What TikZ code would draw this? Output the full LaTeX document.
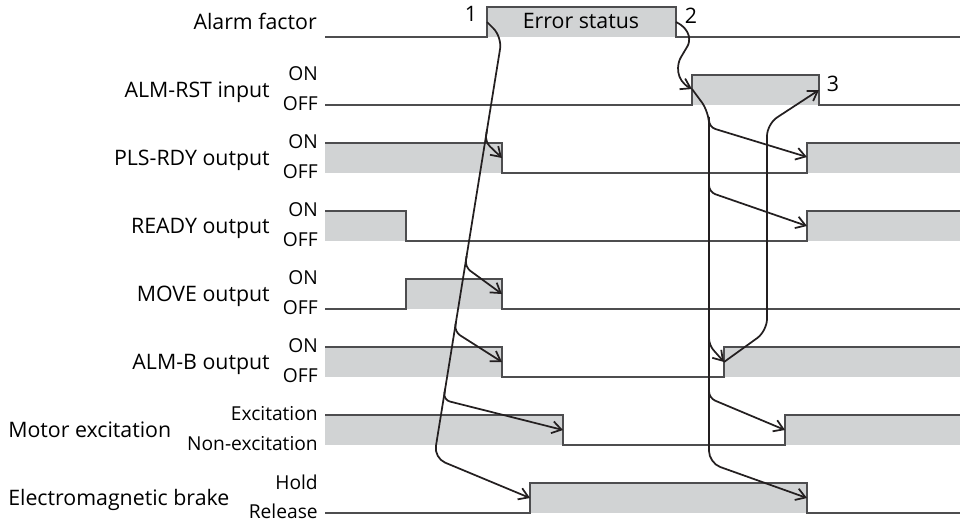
\documentclass[tikz,border=0pt]{standalone}
\usepackage{fontspec}
\setmainfont{Open Sans}
\usetikzlibrary{arrows.meta,calc}

\definecolor{sigfill}{HTML}{D1D3D4}
\definecolor{sigline}{HTML}{4D4D4F}
\definecolor{arrline}{HTML}{231F20}

\tikzset{
  wave/.style={draw=sigline,line width=0.9pt},
  hi/.style={fill=sigfill},
  arr/.style={->,draw=arrline,line width=1.3pt,rounded corners=5pt},
  lab/.style={font=\fontsize{16}{19}\selectfont,inner sep=0pt},
  sublab/.style={font=\fontsize{14.4}{17}\selectfont,inner sep=0pt},
}

\begin{document}
\begin{tikzpicture}[x=0.75pt,y=-0.75pt,>={Straight Barb[length=7pt,width=9pt]}]
    \useasboundingbox (0,0) rectangle (960,522);
    % --- high levels ---
    \fill[sigfill] (487,7) rectangle (676,37);
    \fill[sigfill] (692,75) rectangle (819,105);
    \fill[sigfill] (325,143) rectangle (502,173);
    \fill[sigfill] (807,143) rectangle (960,173);
    \fill[sigfill] (325,211) rectangle (406,241);
    \fill[sigfill] (807,211) rectangle (960,241);
    \fill[sigfill] (406,279) rectangle (502,309);
    \fill[sigfill] (325,347) rectangle (502,377);
    \fill[sigfill] (724,347) rectangle (960,377);
    \fill[sigfill] (325,415) rectangle (563,445);
    \fill[sigfill] (785,415) rectangle (960,445);
    \fill[sigfill] (530,483) rectangle (807,513);
    % --- waveforms ---
    \draw[wave] (325,37) -- (487,37) -- (487,7) -- (676,7) -- (676,37) -- (960,37);
    \draw[wave] (325,105) -- (692,105) -- (692,75) -- (819,75) -- (819,105) -- (960,105);
    \draw[wave] (325,143) -- (502,143) -- (502,173) -- (807,173) -- (807,143) -- (960,143);
    \draw[wave] (325,211) -- (406,211) -- (406,241) -- (807,241) -- (807,211) -- (960,211);
    \draw[wave] (325,309) -- (406,309) -- (406,279) -- (502,279) -- (502,309) -- (960,309);
    \draw[wave] (325,347) -- (502,347) -- (502,377) -- (724,377) -- (724,347) -- (960,347);
    \draw[wave] (325,415) -- (563,415) -- (563,445) -- (785,445) -- (785,415) -- (960,415);
    \draw[wave] (325,513) -- (530,513) -- (530,483) -- (807,483) -- (807,513) -- (960,513);
    % --- labels ---
    \node[lab,anchor=base east] (lalarm) at (317,29) {Alarm factor};
    \foreach \n/\txt/\m in {rst/ALM-RST input/90,pls/PLS-RDY output/158,rdy/READY output/226,
                            mov/MOVE output/294,almb/ALM-B output/362} {
      \node[lab,anchor=base east] (l\n) at (270,\m+7) {\txt};
      \node[sublab,anchor=base east] (on\n) at (318,\m-9.5) {ON};
      \node[sublab,anchor=base east] (off\n) at (318,\m+20.5) {OFF};
    }
    \node[lab,anchor=base west] (lmot) at (8,437) {Motor excitation};
    \node[sublab,anchor=base east] (exc) at (318,420) {Excitation};
    \node[sublab,anchor=base east] (nonexc) at (318,450) {Non-excitation};
    \node[lab,anchor=base west] (lbrk) at (8,505) {Electromagnetic brake};
    \node[sublab,anchor=base east] (hold) at (318,489) {Hold};
    \node[sublab,anchor=base east] (rel) at (318,518) {Release};
    \node[lab,anchor=base] (err) at (581,28) {Error status};
    \node[lab,anchor=base] (n1) at (471,21) {1};
    \node[lab,anchor=base] (n2) at (691,23) {2};
    \node[lab,anchor=base] (n3) at (833,91) {3};
    % --- 1: alarm occurs ---
    \coordinate (f1) at (487,22);
    \coordinate (k1) at (502,37);
    \coordinate (k2) at (434,458);
    \coordinate (plsoff) at (502,158);
    \coordinate (movoff) at (502,294);
    \coordinate (almboff) at (502,362);
    \coordinate (motoff) at (563,430);
    \coordinate (brkon) at (530,498);
    \draw[arr,rounded corners=9pt] (f1) -- (k1) -- (k2) -- (brkon);
    \foreach \a/\f/\t in {0.22/0.249/plsoff,0.52/0.546/movoff,0.675/0.70/almboff,0.835/0.862/motoff}
      \draw[arr] ($(k1)!\a!(k2)$) -- ($(k1)!\f!(k2)$) -- (\t);
    % --- 2: alarm reset ---
    \coordinate (f2) at (676,22);
    \coordinate (rston) at (692,89);
    \coordinate (k3) at (709,112);
    \coordinate (k4) at (709,463);
    \coordinate (plson) at (807,157);
    \coordinate (rdyon) at (807,226);
    \coordinate (almbon) at (724,362);
    \coordinate (moton) at (785,430);
    \coordinate (brkoff) at (807,498);
    \draw[arr] (f2) .. controls (692,30) and (690,42) .. (684,52)
      .. controls (677,64) and (675,80) .. (rston);
    \draw[arr,rounded corners=9pt] (rston) -- (k3) -- (k4) -- (brkoff);
    \foreach \a/\f/\t in {0.014/0.043/plson,0.194/0.228/rdyon,0.63/0.664/almbon,0.781/0.815/moton}
      \draw[arr] ($(k3)!\a!(k4)$) -- ($(k3)!\f!(k4)$) -- (\t);
    % --- 3: reset input off ---
    \coordinate (k5) at (767,331);
    \coordinate (k6) at (767,124);
    \coordinate (rstoff) at (819,90);
    \draw[arr,rounded corners=9pt] (almbon) -- (k5) -- (k6) -- (rstoff);
  \end{tikzpicture}
\end{document}
